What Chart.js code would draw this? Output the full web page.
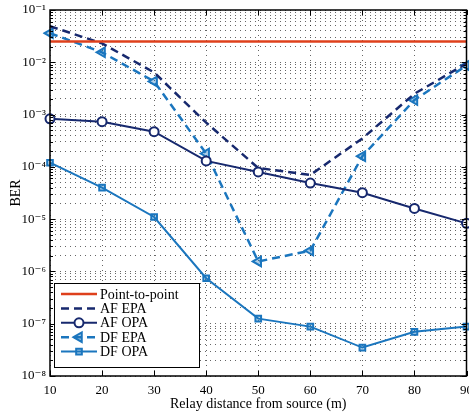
<!DOCTYPE html>
<html>
<head>
<meta charset="utf-8">
<script src="https://cdn.jsdelivr.net/npm/chart.js@4/dist/chart.umd.min.js"></script>
<style>
  html, body { margin: 0; padding: 0; background: #fff; overflow: hidden; }
  #wrap { width: 474px; height: 417px; }
</style>
</head>
<body>
<div id="wrap"><canvas id="ber-chart"></canvas></div>
<script>
  // relay distance (m)
  const distances = [10, 20, 30, 40, 50, 60, 70, 80, 90];
  const pointToPoint = [0.025, 0.025, 0.025, 0.025, 0.025, 0.025, 0.025, 0.025, 0.025];
  const afEPA = [0.049, 0.023, 0.0064, 7e-4, 9.5e-5, 7e-5, 3.5e-4, 2.5e-3, 9.5e-3];
  const afOPA = [8.3e-4, 7.3e-4, 4.7e-4, 1.3e-4, 8e-5, 4.9e-5, 3.2e-5, 1.6e-5, 8.3e-6];
  const dfEPA = [0.036, 0.0155, 0.0043, 1.8e-4, 1.55e-6, 2.5e-6, 1.6e-4, 1.9e-3, 8.7e-3];
  const dfOPA = [1.2e-4, 4e-5, 1.1e-5, 7.4e-7, 1.25e-7, 8.8e-8, 3.5e-8, 7e-8, 8.8e-8];
  const supers = ["\u207B\u00B9", "\u207B\u00B2", "\u207B\u00B3", "\u207B\u2074", "\u207B\u2075", "\u207B\u2076", "\u207B\u2077", "\u207B\u2078"];

  const RED = "#DE401C";
  const NAVY = "#17296E";
  const BLUE = "#1B76BE";
  const FONT = "'Liberation Serif', 'DejaVu Serif', serif";

  // MATLAB-ish frame: box + inward ticks
  const boxPlugin = {
    id: "box",
    afterDatasetsDraw(chart) {
      const { ctx, chartArea: a, scales } = chart;
      ctx.save();
      ctx.strokeStyle = "#000";
      ctx.lineWidth = 1;
      ctx.beginPath();
      scales.y.ticks.forEach(t => {
        const y = Math.round(scales.y.getPixelForValue(t.value)) + 0.5;
        const len = t.major ? 5 : 3;
        ctx.moveTo(a.left, y); ctx.lineTo(a.left + len, y);
        ctx.moveTo(a.right, y); ctx.lineTo(a.right - len, y);
      });
      distances.forEach((d, i) => {
        const x = Math.round(scales.x.getPixelForValue(i)) + 0.5;
        ctx.moveTo(x, a.bottom); ctx.lineTo(x, a.bottom - 5);
        ctx.moveTo(x, a.top); ctx.lineTo(x, a.top + 5);
      });
      ctx.stroke();
      ctx.lineWidth = 1.5;
      ctx.strokeRect(a.left, a.top, a.right - a.left, a.bottom - a.top);
      ctx.restore();
    }
  };

  const legendPlugin = {
    id: "boxLegend",
    afterDraw(chart) {
      const { ctx } = chart;
      const x0 = 54, y0 = 283, w = 145, h = 84;
      ctx.save();
      ctx.fillStyle = "#fff";
      ctx.fillRect(x0, y0, w, h);
      ctx.strokeStyle = "#000";
      ctx.lineWidth = 1;
      ctx.strokeRect(x0 + 0.5, y0 + 0.5, w, h);
      chart.data.datasets.forEach((ds, i) => {
        const y = y0 + 11 + i * 14.4;
        ctx.strokeStyle = ds.borderColor;
        ctx.lineWidth = ds.borderWidth;
        ctx.setLineDash(ds.borderDash || []);
        ctx.beginPath();
        ctx.moveTo(61, y); ctx.lineTo(97, y);
        ctx.stroke();
        ctx.setLineDash([]);
        if (ds.pointRadius > 0) {
          ctx.fillStyle = ds.pointBackgroundColor;
          ctx.strokeStyle = ds.pointBorderColor;
          ctx.lineWidth = ds.pointBorderWidth;
          Chart.helpers.drawPoint(ctx, {
            pointStyle: ds.pointStyle, radius: ds.pointRadius, rotation: ds.pointRotation || 0,
            borderWidth: ds.pointBorderWidth
          }, 79, y);
        }
        ctx.fillStyle = "#000";
        ctx.font = "14px " + FONT;
        ctx.textBaseline = "middle";
        ctx.fillText(ds.label, 100, y + 1);
      });
      ctx.restore();
    }
  };

  function series(label, data, color, extra) {
    return Object.assign({
      label, data,
      borderColor: color,
      backgroundColor: color,
      borderWidth: 2,
      pointRadius: 0,
      fill: false,
      tension: 0
    }, extra);
  }

  const datasets = [
    series("Point-to-point", pointToPoint, RED, { borderWidth: 2.5 }),
    series("AF EPA", afEPA, NAVY, { borderDash: [8, 5], borderWidth: 2.5 }),
    series("AF OPA", afOPA, NAVY, {
      pointStyle: "circle", pointRadius: 4.5, pointBorderWidth: 2,
      pointBackgroundColor: "#fff", pointBorderColor: NAVY
    }),
    series("DF EPA", dfEPA, BLUE, {
      borderDash: [8, 5], borderWidth: 2.5,
      pointStyle: "triangle", pointRotation: -90, pointRadius: 5.5, pointBorderWidth: 2,
      pointBackgroundColor: "rgba(27,118,190,0.35)", pointBorderColor: BLUE
    }),
    series("DF OPA", dfOPA, BLUE, {
      pointStyle: "rect", pointRadius: 4, pointBorderWidth: 2,
      pointBackgroundColor: "rgba(27,118,190,0.3)", pointBorderColor: BLUE
    })
  ];

  new Chart(document.getElementById("ber-chart"), {
    type: "line",
    data: { labels: distances, datasets },
    plugins: [boxPlugin, legendPlugin],
    options: {
      responsive: true,
      maintainAspectRatio: false,
      animation: false,
      layout: { padding: { top: 10, right: 0, left: 0, bottom: 0 } },
      plugins: { legend: { display: false }, tooltip: { enabled: false } },
      scales: {
        x: {
          type: "category",
          offset: false,
          grid: { color: "rgba(0,0,0,0.6)", drawTicks: false, lineWidth: 1 },
          border: { display: false, dash: [1, 4] },
          ticks: { color: "#000", font: { family: FONT, size: 13 }, padding: 7, maxRotation: 0, autoSkip: false },
          title: { display: true, text: "Relay distance from source (m)", color: "#000", font: { family: FONT, size: 14 }, padding: { top: 1 } },
          afterFit(scale) { scale.height = 41; scale.paddingLeft = 0; scale.paddingRight = 0; }
        },
        y: {
          type: "logarithmic",
          min: 1e-8,
          max: 1e-1,
          grid: { color: "rgba(0,0,0,0.6)", drawTicks: false, lineWidth: 1 },
          border: { display: false, dash: [1, 4] },
          ticks: {
            color: "#000", font: { family: FONT, size: 13 }, padding: 4, autoSkip: false,
            callback(v) {
              const e = Math.round(Math.log10(v));
              if (Math.abs(Math.log10(v) - e) > 1e-6) return "";
              return "10" + supers[-e - 1];
            }
          },
          afterBuildTicks(scale) {
            const t = [];
            for (let e = -8; e <= -1; e++) {
              for (let m = 1; m <= 9; m++) {
                if (e === -1 && m > 1) break;
                t.push({ value: m * Math.pow(10, e), major: m === 1 });
              }
            }
            scale.ticks = t;
          },
          title: { display: true, text: "BER", color: "#000", font: { family: FONT, size: 14 }, padding: { top: 8, bottom: 0 } },
          afterFit(scale) { scale.width = 50; scale.paddingTop = 0; scale.paddingBottom = 0; }
        }
      }
    }
  });
</script>
</body>
</html>
